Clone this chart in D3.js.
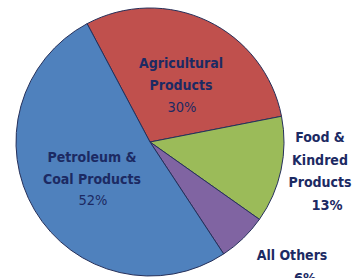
<!DOCTYPE html>
<html>
<head>
<meta charset="utf-8">
<script src="https://cdn.jsdelivr.net/npm/d3@7"></script>
<style>
  body { margin: 0; background: #fff; }
  svg text { font-family: "DejaVu Sans Condensed", "DejaVu Sans", sans-serif; fill: #1c2a63; }
</style>
</head>
<body>
<div id="chart"></div>
<script>
// share of shipments by category (reads as 101% total in the picture, kept as is)
const categories = ["Agricultural Products", "Food & Kindred Products", "All Others", "Petroleum & Coal Products"];
const shares = [30, 13, 6, 52];
const labelLines = [
    ["Agricultural", "Products"],
    ["Food &", "Kindred", "Products"],
    ["All Others"],
    ["Petroleum &", "Coal Products"]
];
const colors = ["#c0504d", "#9bbb59", "#8064a2", "#4f81bd"];

let width = 364, height = 278;
let cx = 150, cy = 142, radius = 134;

let svg = d3.select("#chart").append("svg")
    .attr("width", width)
    .attr("height", height);

let g = svg.append("g")
    .attr("transform", "translate(" + cx + "," + cy + ")");

let startDeg = -28;
let pie = d3.pie()
    .sort(null)
    .value(d => d)
    .startAngle(startDeg * Math.PI / 180)
    .endAngle((startDeg + 360) * Math.PI / 180);

let arc = d3.arc().innerRadius(0).outerRadius(radius);

let arcs = pie(shares);

g.selectAll("path.slice")
    .data(arcs)
    .enter()
    .append("path")
    .attr("class", "slice")
    .attr("d", arc)
    .attr("fill", (d, i) => colors[i])
    .attr("stroke", "#26305a")
    .attr("stroke-width", 1);

// label block anchors (first baseline, centre) relative to pie centre,
// food and others sit outside the pie on the right
let labelPlace = [
    {x: 31, y: -74, pdx: 1, lh: 22},
    {x: 170, y: 0, pdx: 7, lh: 22.5},
    {x: 142, y: 118, pdx: 13, lh: 23},
    {x: -58, y: 20, pdx: 1, lh: 21.5}
];

arcs.forEach((d, i) => {
    let p = labelPlace[i];
    let lines = labelLines[i];
    let t = g.append("text")
        .attr("text-anchor", "middle")
        .attr("x", p.x)
        .attr("y", p.y);
    lines.forEach((l, j) => {
        t.append("tspan")
            .attr("x", p.x)
            .attr("dy", j === 0 ? 0 : p.lh)
            .style("font-weight", "bold")
            .style("font-size", "14px")
            .text(l);
    });
    t.append("tspan")
        .attr("x", p.x + p.pdx)
        .attr("dy", p.lh)
        .style("font-size", "14.5px")
        .style("font-weight", i === 1 || i === 2 ? "bold" : "normal")
        .text(shares[i] + "%");
});
</script>
</body>
</html>
